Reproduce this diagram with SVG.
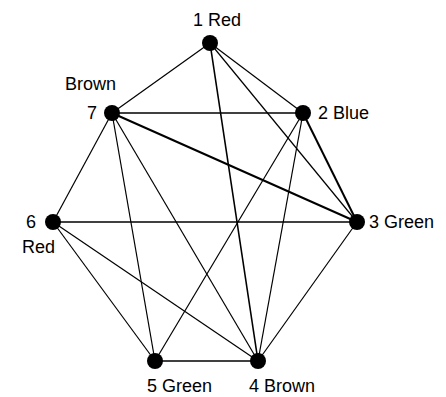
<svg xmlns="http://www.w3.org/2000/svg" width="446" height="397" viewBox="0 0 446 397">
<style>
.e{stroke:#000;stroke-width:1.2;fill:none}
.t{stroke-width:2}
.n{fill:#000}
text{font-family:"Liberation Sans",Arial,sans-serif;font-size:18px;fill:#000}
</style>
<rect width="446" height="397" fill="#fff"/>
<g id="connectors">
<line class="e" x1="210" y1="43" x2="112" y2="113"/>
<line class="e" x1="210" y1="43" x2="303" y2="113"/>
<line class="e" x1="210" y1="43" x2="357" y2="222"/>
<line class="e" x1="210" y1="43" x2="258" y2="361" style="stroke-width:1.6"/>
<line class="e" x1="112" y1="113" x2="303" y2="113" style="stroke-width:1.6"/>
<line class="e t" x1="112" y1="113" x2="357" y2="222"/>
<line class="e" x1="112" y1="113" x2="53" y2="222"/>
<line class="e" x1="112" y1="113" x2="155" y2="361"/>
<line class="e" x1="112" y1="113" x2="258" y2="361"/>
<line class="e t" x1="303" y1="113" x2="357" y2="222"/>
<line class="e" x1="303" y1="113" x2="155" y2="361"/>
<line class="e" x1="303" y1="113" x2="258" y2="361"/>
<line class="e" x1="53" y1="222" x2="357" y2="222" style="stroke-width:1.6"/>
<line class="e" x1="53" y1="222" x2="155" y2="361"/>
<line class="e" x1="53" y1="222" x2="258" y2="361"/>
<line class="e" x1="357" y1="222" x2="258" y2="361"/>
<line class="e" x1="155" y1="361" x2="258" y2="361" style="stroke-width:1.6"/>
</g>
<g id="node1"><circle class="n" cx="210" cy="43" r="8"/><text x="193" y="26">1 Red</text></g>
<g id="node2"><circle class="n" cx="303" cy="113" r="8"/><text x="318" y="119">2 Blue</text></g>
<g id="node3"><circle class="n" cx="357" cy="222" r="8"/><text x="369" y="228">3 Green</text></g>
<g id="node4"><circle class="n" cx="258" cy="361" r="8"/><text x="249" y="392">4 Brown</text></g>
<g id="node5"><circle class="n" cx="155" cy="361" r="8"/><text x="147" y="392">5 Green</text></g>
<g id="node6"><circle class="n" cx="53" cy="222" r="8"/><text x="26" y="228">6</text><text x="22" y="253">Red</text></g>
<g id="node7"><circle class="n" cx="112" cy="113" r="8"/><text x="65" y="90">Brown</text><text x="87" y="119">7</text></g>
</svg>
